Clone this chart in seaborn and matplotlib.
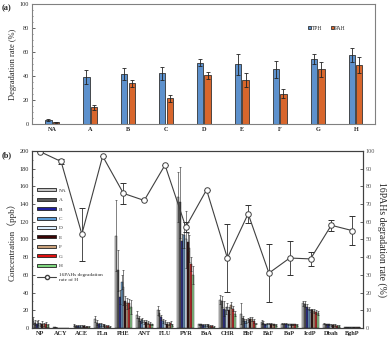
import numpy as np
import pandas as pd
import matplotlib
matplotlib.use('Agg')
import matplotlib.pyplot as plt
import seaborn as sns
from matplotlib.ticker import MultipleLocator
from matplotlib.lines import Line2D
from matplotlib.patches import Patch

sns.set_theme(style='white')
plt.rcParams['font.family'] = ['Liberation Serif', 'DejaVu Serif']

# ---------------- data: panel (a) ----------------
treatments = ['NA', 'A', 'B', 'C', 'D', 'E', 'F', 'G', 'H']
tph = [3.5, 39.4, 41.4, 42.2, 51.0, 49.7, 45.6, 54.2, 57.5]
tph_err = [0.8, 6.0, 5.0, 5.5, 3.0, 9.0, 7.0, 4.4, 6.0]
pah = [1.5, 14.0, 34.0, 21.4, 40.8, 36.7, 25.3, 45.6, 49.2]
pah_err = [0.3, 2.0, 3.0, 2.7, 3.0, 6.0, 3.6, 6.0, 6.4]

# ---------------- data: panel (b) ----------------
compounds = ['NP', 'ACY', 'ACE', 'FLn', 'PHE', 'ANT', 'FLU', 'PYR',
             'BaA', 'CHR', 'BbF', 'BkF', 'BaP', 'IcdP', 'Dbah', 'BghP']
conc_NA = [8, 0.6, 3, 10, 104, 15, 20, 148, 4, 32, 16, 7, 5, 28, 5, 1]
conc_A = [6, 0.6, 2.5, 6, 65, 11, 17, 142, 4, 30, 11, 6, 5, 27, 4, 1]
conc_B = [5, 0.5, 2, 4, 35, 8, 12, 98, 3, 22, 8, 4, 5, 24, 4, 1]
conc_C = [6, 0.5, 2, 4, 52, 9, 8, 105, 3, 20, 8, 5, 4, 22, 4, 1]
conc_D = [4, 0.5, 2, 3, 46, 7, 7, 100, 3, 24, 9, 5, 4, 20, 3, 1]
conc_E = [5, 0.5, 2, 3, 31, 7, 5, 97, 3, 20, 10, 5, 4, 20, 3, 1]
conc_F = [4, 0.5, 1.5, 2, 28, 6, 5, 90, 2, 26, 10, 4, 4, 19, 3, 1]
conc_G = [4, 0.5, 1.5, 2, 28, 5, 6, 72, 2, 22, 8, 4, 4, 18, 2, 1]
conc_H = [3, 0.5, 1, 1, 24, 4, 3, 60, 1, 16, 5, 3, 3, 17, 2, 1]
err_NA = [4, 0, 1, 3, 40, 4, 5, 28, 1, 5, 12, 2, 1, 3, 1, 0]
err_A = [3, 0, 1, 3, 23, 3, 3, 40, 1, 6, 3, 2, 1, 3, 1, 0]
err_B = [3, 0, 1, 2, 8, 2, 3, 8, 1, 8, 2, 1, 1, 3, 1, 0]
err_C = [3, 0, 1, 2, 8, 2, 2, 15, 1, 4, 2, 1, 1, 2, 1, 0]
err_D = [2, 0, 1, 1, 20, 2, 2, 32, 1, 4, 2, 1, 1, 2, 1, 0]
err_E = [3, 0, 1, 1, 5, 2, 2, 10, 1, 4, 2, 1, 1, 2, 1, 0]
err_F = [2, 0, 1, 1, 6, 2, 2, 15, 1, 3, 2, 1, 1, 2, 1, 0]
err_G = [3, 0, 1, 1, 5, 2, 2, 8, 1, 3, 2, 1, 1, 2, 1, 0]
err_H = [2, 0, 1, 1, 8, 1, 1, 10, 1, 3, 1, 1, 1, 2, 1, 0]
rate_H = [99.5, 94, 53, 97, 76, 72, 92, 57, 78, 39.5, 64.5, 31, 39.5, 39, 58, 55]
rate_H_err = [0, 1.5, 15, 0, 6, 0, 0, 3, 0, 19, 5, 16.5, 9.5, 4, 3, 8]

series_colors = ['#c4c4c4', '#5a5a5a', '#1f1f9f', '#5b9bd5', '#dbeeff',
                 '#3a0505', '#c8a07a', '#e01010', '#7fd67f']

conc_all = [conc_NA, conc_A, conc_B, conc_C, conc_D, conc_E, conc_F, conc_G, conc_H]
err_all = [err_NA, err_A, err_B, err_C, err_D, err_E, err_F, err_G, err_H]

fig = plt.figure(figsize=(3.9, 3.4), dpi=100)

# ---------------- panel (a) ----------------
ax1 = fig.add_axes([0.082, 0.635, 0.879, 0.353])
df_a = pd.DataFrame({'group': treatments * 2,
                     'rate': tph + pah,
                     'type': ['TPH'] * len(tph) + ['PAH'] * len(pah)})
sns.barplot(data=df_a, x='group', y='rate', hue='type', order=treatments,
            palette={'TPH': '#4a8fe0', 'PAH': '#f55d0f'}, width=0.38, gap=0.15,
            errorbar=None, edgecolor='#333333', linewidth=0.6, ax=ax1)
for cont, err in zip(ax1.containers, [tph_err, pah_err]):
    xs = [b.get_x() + b.get_width() / 2 for b in cont]
    hs = [b.get_height() for b in cont]
    ax1.errorbar(xs, hs, yerr=err, fmt='none', ecolor='#222222',
                 elinewidth=0.6, capsize=1.5, capthick=0.6)
ax1.set_ylim(0, 100)
ax1.set_xlim(-0.53, len(treatments) - 0.5)
ax1.yaxis.set_major_locator(MultipleLocator(20))
ax1.yaxis.set_minor_locator(MultipleLocator(5))
ax1.set_xlabel('')
ax1.set_ylabel('Degradation rate (%)', fontsize=6, labelpad=2)
ax1.tick_params(axis='y', which='major', labelsize=4.5, direction='in', length=2, width=0.5, pad=2, left=True)
ax1.tick_params(axis='y', which='minor', direction='in', length=1, width=0.4, left=True)
ax1.tick_params(axis='x', labelsize=4.5, length=0, pad=2)
for lab in ax1.get_xticklabels():
    lab.set_fontweight('bold')
for s in ax1.spines.values():
    s.set_color('#808080')
    s.set_linewidth(0.8)
ax1.legend(loc='center', bbox_to_anchor=(0.86, 0.8), ncol=2, fontsize=4,
           frameon=False, handlelength=0.6, handleheight=0.6,
           columnspacing=1.5, handletextpad=0.2)
fig.text(0.005, 0.975, '(a)', fontsize=6, fontweight='bold', va='center')

# ---------------- panel (b) ----------------
ax2 = fig.add_axes([0.082, 0.0353, 0.849, 0.521])
df_b = pd.DataFrame({'compound': compounds * len(treatments),
                     'conc': sum(conc_all, []),
                     'series': sum([[t] * len(compounds) for t in treatments], [])})
sns.barplot(data=df_b, x='compound', y='conc', hue='series', order=compounds,
            hue_order=treatments, palette=series_colors, width=0.8,
            errorbar=None, edgecolor='#222222', linewidth=0.3, ax=ax2,
            legend=False)
for cont, err in zip(ax2.containers, err_all):
    xs = [b.get_x() + b.get_width() / 2 for b in cont]
    hs = [b.get_height() for b in cont]
    ax2.errorbar(xs, hs, yerr=err, fmt='none', ecolor='#222222',
                 elinewidth=0.4, capsize=1.0, capthick=0.4)
ax2.set_ylim(0, 200)
ax2.set_xlim(-0.4, len(compounds) - 0.47)
ax2.yaxis.set_major_locator(MultipleLocator(20))
ax2.yaxis.set_minor_locator(MultipleLocator(10))
ax2.set_xlabel('')
ax2.set_ylabel('Concentration（ppb）', fontsize=6.5, labelpad=2,
               family=['Liberation Serif', 'Noto Sans CJK SC'])
ax2.tick_params(axis='y', which='major', labelsize=4.5, direction='in', length=2, width=0.5, pad=2, left=True)
ax2.tick_params(axis='y', which='minor', direction='in', length=1, width=0.4, left=True)
ax2.tick_params(axis='x', labelsize=4.5, length=0, pad=2)
for lab in ax2.get_xticklabels():
    lab.set_fontweight('bold')
for s in ax2.spines.values():
    s.set_color('#404040')
    s.set_linewidth(0.8)

ax3 = ax2.twinx()
xpos = np.arange(len(compounds))
ax3.errorbar(xpos, rate_H, yerr=rate_H_err, color='#404040', lw=0.8,
             marker='o', ms=4, mfc='white', mec='#404040', mew=0.7,
             ecolor='#303030', elinewidth=0.6, capsize=2, capthick=0.6)
ax3.set_ylim(0, 100)
ax3.yaxis.set_major_locator(MultipleLocator(10))
ax3.tick_params(axis='y', labelsize=4.5, direction='in', length=2, width=0.5,
                pad=2, labelcolor='#555555', right=True)
ax3.set_ylabel('16PAHs degradation rate (%)', fontsize=7, rotation=270,
               labelpad=8)
for s in ax3.spines.values():
    s.set_color('#404040')
    s.set_linewidth(0.8)
ax3.grid(False)
ax2.grid(False)

handles = [Patch(facecolor=c, edgecolor='#222222', linewidth=0.6, label=t)
           for c, t in zip(series_colors, treatments)]
handles.append(Line2D([0], [0], color='#404040', lw=0.8, marker='o', ms=3,
                      mfc='white', mec='#404040',
                      label='16PAHs degradation\nrate of H'))
ax3.legend(handles=handles, loc='upper left', bbox_to_anchor=(0.01, 0.80),
           fontsize=3.8, frameon=False, handlelength=3.6, handleheight=0.5,
           labelspacing=0.95, handletextpad=0.4, borderaxespad=0)
fig.text(0.005, 0.545, '(b)', fontsize=6, fontweight='bold', va='center')

fig.savefig('out.png', dpi=100)
